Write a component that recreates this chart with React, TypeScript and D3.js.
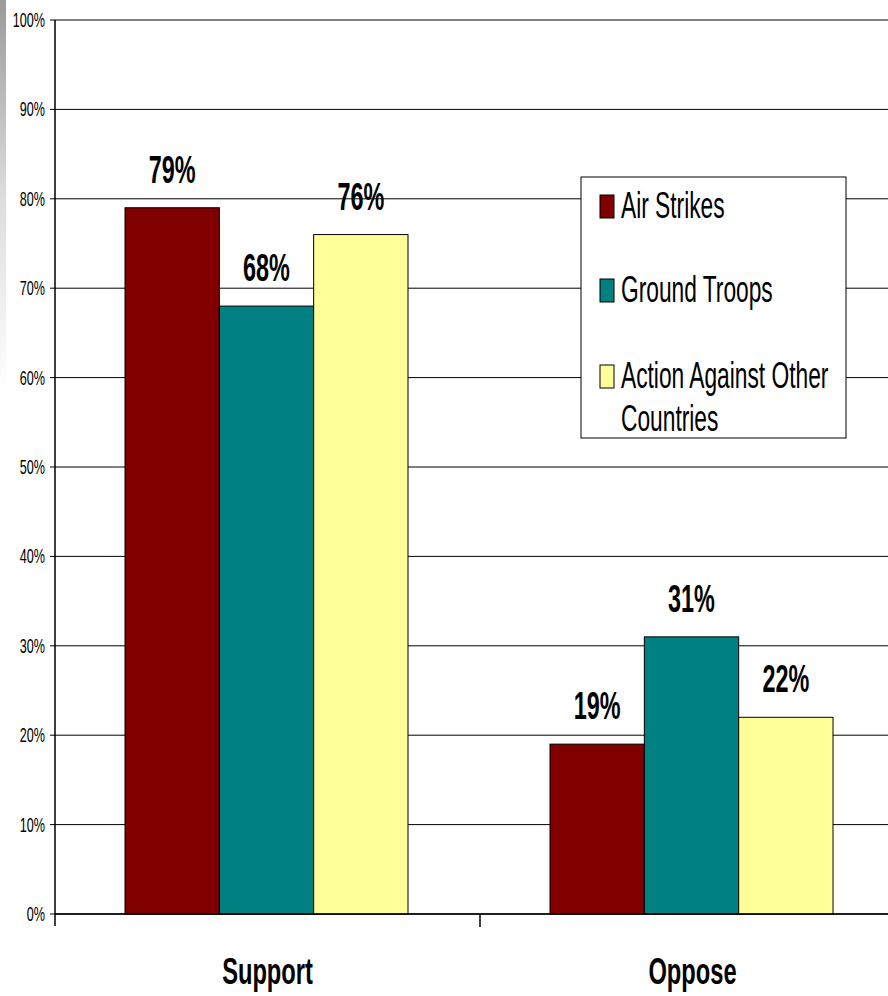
import React from "react";
import * as d3 from "d3";

const categories = ["Support", "Oppose"];
const seriesNames = ["Air Strikes", "Ground Troops", "Action Against Other Countries"];
const legendLines = [["Air Strikes"], ["Ground Troops"], ["Action Against Other", "Countries"]];
const airStrikes = [79, 19];
const groundTroops = [68, 31];
const actionOther = [76, 22];
const seriesColors = ["#800000", "#008080", "#FFFF99"];
const yTicks = [0, 10, 20, 30, 40, 50, 60, 70, 80, 90, 100];

const W = 888;
const H = 996;
const FONT = "'Liberation Sans', Arial, sans-serif";

function NText(props: {
  x: number;
  y: number;
  sx: number;
  size: number;
  bold?: boolean;
  anchor?: "start" | "middle" | "end";
  children: React.ReactNode;
}) {
  return (
    <g transform={`translate(${props.x},${props.y}) scale(${props.sx},1)`}>
      <text
        x={0}
        y={0}
        textAnchor={props.anchor || "start"}
        fontFamily={FONT}
        fontSize={props.size}
        fontWeight={props.bold ? "bold" : "normal"}
        fill="#000"
      >
        {props.children}
      </text>
    </g>
  );
}

export default function App() {
  const series = [airStrikes, groundTroops, actionOther];
  const x0 = d3.scaleBand<string>().domain(categories).range([55, 905]).padding(0);
  const x1 = d3
    .scaleBand<number>()
    .domain([0, 1, 2])
    .range([70, x0.bandwidth() - 72])
    .padding(0);
  const y = d3.scaleLinear().domain([0, 100]).range([914, 20]);

  return (
    <svg
      width={W}
      height={H}
      style={{ position: "absolute", left: 0, top: 0, background: "#fff" }}
    >
      <defs>
        <linearGradient id="edge" x1="0" y1="0" x2="0" y2="1">
          <stop offset="0" stopColor="#9a9a9a" />
          <stop offset="0.35" stopColor="#dcdcdc" />
          <stop offset="0.7" stopColor="#ffffff" />
        </linearGradient>
      </defs>
      <rect x={0} y={0} width={6} height={560} fill="url(#edge)" />
      {/* gridlines */}
      {yTicks.map((t) => (
        <g key={t}>
          <line x1={55} x2={W} y1={y(t)} y2={y(t)} stroke="#000" strokeWidth={1} />
          <line x1={50} x2={55} y1={y(t)} y2={y(t)} stroke="#000" strokeWidth={1} />
          <NText x={45} y={y(t) + 7} sx={0.63} size={20} anchor="end">
            {t}%
          </NText>
        </g>
      ))}
      {/* bars */}
      {categories.map((c, ci) => (
        <g key={c} transform={`translate(${x0(c)},0)`}>
          {series.map((s, si) => (
            <g key={si}>
              <rect
                x={x1(si)}
                y={y(s[ci])}
                width={x1.bandwidth()}
                height={y(0) - y(s[ci])}
                fill={seriesColors[si]}
                stroke="#000"
                strokeWidth={1}
              />
              <NText
                x={(x1(si) as number) + x1.bandwidth() / 2}
                y={y(s[ci]) - 25}
                sx={0.6}
                size={39}
                bold
                anchor="middle"
              >
                {s[ci]}%
              </NText>
            </g>
          ))}
        </g>
      ))}
      {/* axes */}
      <line x1={55} x2={55} y1={20} y2={926} stroke="#000" strokeWidth={1.5} />
      <line x1={55} x2={W} y1={914} y2={914} stroke="#000" strokeWidth={1.5} />
      {categories.map((c) => (
        <line
          key={"t" + c}
          x1={(x0(c) as number) + x0.bandwidth()}
          x2={(x0(c) as number) + x0.bandwidth()}
          y1={914}
          y2={927}
          stroke="#000"
          strokeWidth={1.5}
        />
      ))}
      {categories.map((c) => (
        <NText
          key={"c" + c}
          x={(x0(c) as number) + x0.bandwidth() / 2}
          y={984}
          sx={0.64}
          size={37}
          bold
          anchor="middle"
        >
          {c}
        </NText>
      ))}
      {/* legend */}
      <rect x={581} y={177} width={265} height={261} fill="#fff" stroke="#000" strokeWidth={1} />
      {seriesNames.map((name, i) => {
        const by = [218, 302, 388][i];
        return (
          <g key={name}>
            <rect
              x={600}
              y={by - 23}
              width={14}
              height={23}
              fill={seriesColors[i]}
              stroke="#000"
              strokeWidth={1}
            />
            {legendLines[i].map((ln, li) => (
              <NText key={li} x={621} y={by + li * 43} sx={0.615} size={37}>
                {ln}
              </NText>
            ))}
          </g>
        );
      })}
    </svg>
  );
}
